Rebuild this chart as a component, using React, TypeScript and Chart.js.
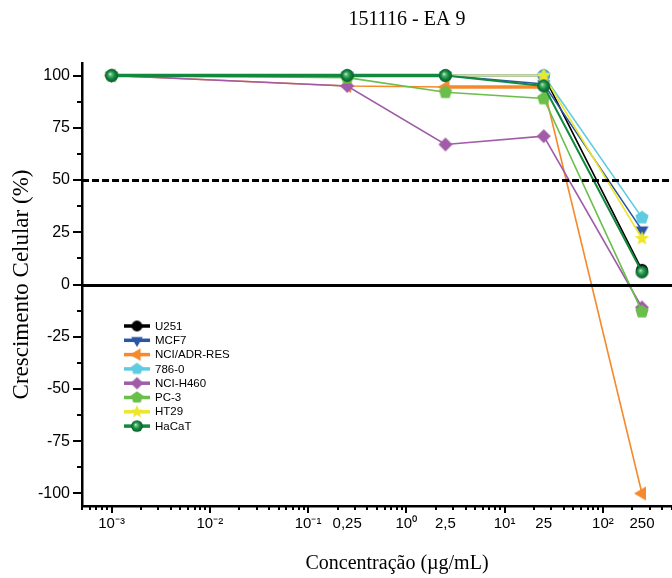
import React, { useEffect, useRef } from 'react';
import { Chart, registerables } from 'chart.js';

Chart.register(...registerables);

// ---------- data ----------
const concentrations = [0.001, 0.25, 2.5, 25, 250];
const seriesNames = ['U251', 'MCF7', 'NCI/ADR-RES', '786-0', 'NCI-H460', 'PC-3', 'HT29', 'HaCaT'];
const u251 = [100, 100, 100, 100, 7];
const mcf7 = [100, 100, 100, 96, 26];
const nciAdrRes = [100, 95, 94.5, 94.5, -100];
const c7860 = [100, 100, 100, 100, 32];
const nciH460 = [100, 95, 67, 71, -11];
const pc3 = [100, 99, 92, 89, -13];
const ht29 = [100, 100, 100, 100, 22];
const hacat = [100, 100, 100, 95, 6];

const xTickValues = [0.001, 0.01, 0.1, 0.25, 1, 2.5, 10, 25, 100, 250];
const xTickLabels = ['10⁻³', '10⁻²', '10⁻¹', '0,25', '10⁰', '2,5', '10¹', '25', '10²', '250'];
const yTickValues = [-100, -75, -50, -25, 0, 25, 50, 75, 100];

const chartTitle = '151116 - EA 9';
const xAxisTitle = 'Concentração (µg/mL)';
const yAxisTitle = 'Crescimento Celular (%)';
const cutoffValue = 50;
const zeroValue = 0;

// ---------- styles ----------
type Shape = 'circle' | 'triDown' | 'triLeft' | 'pentagon' | 'diamond' | 'star' | 'sphere';
const seriesValues = [u251, mcf7, nciAdrRes, c7860, nciH460, pc3, ht29, hacat];
const seriesStyles: { color: string; shape: Shape; r: number; width: number; thickFlat?: number }[] = [
  { color: '#000000', shape: 'circle', r: 6, width: 1.6 },
  { color: '#2a56a6', shape: 'triDown', r: 7.5, width: 1.6 },
  { color: '#f5892b', shape: 'triLeft', r: 8, width: 1.6, thickFlat: 3.5 },
  { color: '#5ecbe0', shape: 'pentagon', r: 7, width: 1.6 },
  { color: '#a05ca8', shape: 'diamond', r: 7, width: 1.6 },
  { color: '#6abf4a', shape: 'pentagon', r: 7, width: 1.6 },
  { color: '#efe62c', shape: 'star', r: 7.5, width: 1.6 },
  { color: '#13883f', shape: 'sphere', r: 6.5, width: 2, thickFlat: 3.5 },
];

function makeMarker(shape: Shape, color: string, r: number): HTMLCanvasElement {
  const size = Math.ceil(r * 2 + 2);
  const c = document.createElement('canvas');
  c.width = size;
  c.height = size;
  const ctx = c.getContext('2d') as CanvasRenderingContext2D;
  const cx = size / 2;
  const cy = size / 2;
  const poly = (n: number, rot: number, rr: number) => {
    for (let i = 0; i < n; i++) {
      const a = rot + (i * 2 * Math.PI) / n;
      const x = cx + rr * Math.cos(a);
      const y = cy + rr * Math.sin(a);
      if (i === 0) ctx.moveTo(x, y);
      else ctx.lineTo(x, y);
    }
  };
  ctx.fillStyle = color;
  ctx.beginPath();
  switch (shape) {
    case 'circle':
      ctx.arc(cx, cy, r, 0, Math.PI * 2);
      break;
    case 'triDown':
      poly(3, Math.PI / 2, r);
      break;
    case 'triLeft':
      poly(3, Math.PI, r);
      break;
    case 'pentagon':
      poly(5, -Math.PI / 2, r);
      break;
    case 'diamond':
      poly(4, -Math.PI / 2, r);
      break;
    case 'star':
      for (let i = 0; i < 10; i++) {
        const rr = i % 2 ? r * 0.45 : r;
        const a = -Math.PI / 2 + (i * Math.PI) / 5;
        const x = cx + rr * Math.cos(a);
        const y = cy + rr * Math.sin(a);
        if (i === 0) ctx.moveTo(x, y);
        else ctx.lineTo(x, y);
      }
      break;
    case 'sphere': {
      const g = ctx.createRadialGradient(cx - r * 0.25, cy - r * 0.25, 0, cx, cy, r);
      g.addColorStop(0, '#f2fbf4');
      g.addColorStop(0.22, '#5fbf7c');
      g.addColorStop(0.6, color);
      g.addColorStop(1, '#0a5a26');
      ctx.fillStyle = g;
      ctx.arc(cx, cy, r, 0, Math.PI * 2);
      break;
    }
  }
  ctx.closePath();
  ctx.fill();
  return c;
}

const SANS = '"Liberation Sans", Arial, sans-serif';
const SERIF = '"Liberation Serif", "Times New Roman", serif';

export default function App() {
  const ref = useRef<HTMLCanvasElement | null>(null);

  useEffect(() => {
    if (!ref.current) return;
    const markers = seriesStyles.map((s) => makeMarker(s.shape, s.color, s.r));
    const legendMarkers = seriesStyles.map((s) => makeMarker(s.shape, s.color, s.r * 0.9));

    const decor = {
      id: 'decor',
      afterDatasetsDraw(chart: any) {
        const ctx = chart.ctx as CanvasRenderingContext2D;
        const { left, right } = chart.chartArea;
        const ys = chart.scales.y;
        ctx.save();
        ctx.strokeStyle = '#000';
        ctx.lineWidth = 3;
        const y50 = Math.round(ys.getPixelForValue(cutoffValue)) + 0.5;
        ctx.setLineDash([7, 3]);
        ctx.beginPath();
        ctx.moveTo(left, y50);
        ctx.lineTo(right, y50);
        ctx.stroke();
        ctx.setLineDash([]);
        const y0 = Math.round(ys.getPixelForValue(zeroValue)) + 0.5;
        ctx.beginPath();
        ctx.moveTo(left, y0);
        ctx.lineTo(right, y0);
        ctx.stroke();
        ctx.restore();
      },
      afterDraw(chart: any) {
        const ctx = chart.ctx as CanvasRenderingContext2D;
        const { left, bottom } = chart.chartArea;
        const xs = chart.scales.x;
        const ys = chart.scales.y;
        ctx.save();
        ctx.strokeStyle = '#000';
        ctx.lineWidth = 2;
        const tick = (x1: number, y1: number, x2: number, y2: number) => {
          ctx.beginPath();
          ctx.moveTo(x1, y1);
          ctx.lineTo(x2, y2);
          ctx.stroke();
        };
        // x ticks (log decades + minor)
        for (let e = -4; e <= 3; e++) {
          for (let k = 1; k <= 9; k++) {
            const v = k * Math.pow(10, e);
            if (v < xs.min || v > xs.max) continue;
            const px = Math.round(xs.getPixelForValue(v));
            tick(px, bottom + 1, px, bottom + (k === 1 ? 7 : 4));
          }
        }
        // y ticks
        for (let i = 0; i < yTickValues.length; i++) {
          const py = Math.round(ys.getPixelForValue(yTickValues[i]));
          tick(left - 9, py, left - 1, py);
          if (i < yTickValues.length - 1) {
            const pm = Math.round(ys.getPixelForValue((yTickValues[i] + yTickValues[i + 1]) / 2));
            tick(left - 5, pm, left - 1, pm);
          }
        }
        // legend
        const lx = 124;
        const ly = 326;
        const step = 14.3;
        ctx.font = `11.5px ${SANS}`;
        ctx.textBaseline = 'middle';
        ctx.textAlign = 'left';
        for (let i = 0; i < seriesNames.length; i++) {
          const y = ly + i * step;
          ctx.strokeStyle = seriesStyles[i].color;
          ctx.lineWidth = 3.5;
          tick(lx, y, lx + 26, y);
          const m = legendMarkers[i];
          ctx.drawImage(m, lx + 13 - m.width / 2, y - m.height / 2);
          ctx.fillStyle = '#000';
          ctx.fillText(seriesNames[i], lx + 31, y + 0.5);
        }
        // title
        ctx.font = `20px ${SERIF}`;
        ctx.textAlign = 'center';
        ctx.fillStyle = '#000';
        ctx.fillText(chartTitle, 407, 20);
        ctx.restore();
      },
    };

    const order = seriesNames.length - 1;
    const chart = new Chart(ref.current, {
      type: 'line',
      data: {
        datasets: seriesNames.map((name, i) => {
          const s = seriesStyles[i];
          return {
            label: name,
            data: concentrations.map((c, j) => ({ x: c, y: seriesValues[i][j] })),
            borderColor: s.color,
            backgroundColor: s.color,
            borderWidth: s.width,
            pointStyle: markers[i] as any,
            pointRadius: s.r,
            pointHoverRadius: s.r,
            order: order - i,
            tension: 0,
            segment: s.thickFlat
              ? { borderWidth: (ctx: any) => (ctx.p0.parsed.y === ctx.p1.parsed.y ? s.thickFlat : s.width) }
              : undefined,
          } as any;
        }),
      },
      options: {
        responsive: false,
        animation: false,
        devicePixelRatio: 1,
        layout: { autoPadding: false, padding: { top: 63, right: 0, left: 0, bottom: 0 } },
        plugins: {
          legend: { display: false },
          tooltip: { enabled: false },
          title: { display: false },
        },
        scales: {
          x: {
            type: 'logarithmic',
            min: 5e-4,
            max: 1290,
            grid: { display: false, drawTicks: false },
            border: { display: true, color: '#000', width: 2.5 },
            afterBuildTicks: (s: any) => {
              s.ticks = xTickValues.map((v) => ({ value: v }));
            },
            afterFit: (s: any) => {
              s.height = 72;
              s.paddingLeft = 0;
              s.paddingRight = 0;
            },
            ticks: {
              autoSkip: false,
              maxRotation: 0,
              padding: 9,
              color: '#000',
              font: { family: SANS, size: 15 },
              callback: (_v: any, i: number) => xTickLabels[i],
            },
            title: {
              display: true,
              text: xAxisTitle,
              color: '#000',
              font: { family: SERIF, size: 20 },
              padding: { top: 0, bottom: 2 },
            },
          },
          y: {
            type: 'linear',
            min: -106,
            max: 106,
            grid: { display: false, drawTicks: false },
            border: { display: true, color: '#000', width: 2.5 },
            afterBuildTicks: (s: any) => {
              s.ticks = yTickValues.map((v) => ({ value: v }));
            },
            afterFit: (s: any) => {
              s.width = 82;
              s.paddingTop = 0;
              s.paddingBottom = 0;
            },
            ticks: {
              padding: 12,
              color: '#000',
              font: { family: SANS, size: 16 },
              callback: (v: any) => String(v),
            },
            title: {
              display: true,
              text: yAxisTitle,
              color: '#000',
              font: { family: SERIF, size: 23 },
              padding: { top: 8, bottom: 0 },
            },
          },
        },
      } as any,
      plugins: [decor],
    });
    return () => chart.destroy();
  }, []);

  return (
    <div
      style={{
        position: 'fixed',
        left: 0,
        top: 0,
        width: 672,
        height: 578,
        overflow: 'hidden',
        background: '#fff',
      }}
    >
      <canvas ref={ref} width={712} height={578} style={{ display: 'block', width: 712, height: 578 }} />
    </div>
  );
}
